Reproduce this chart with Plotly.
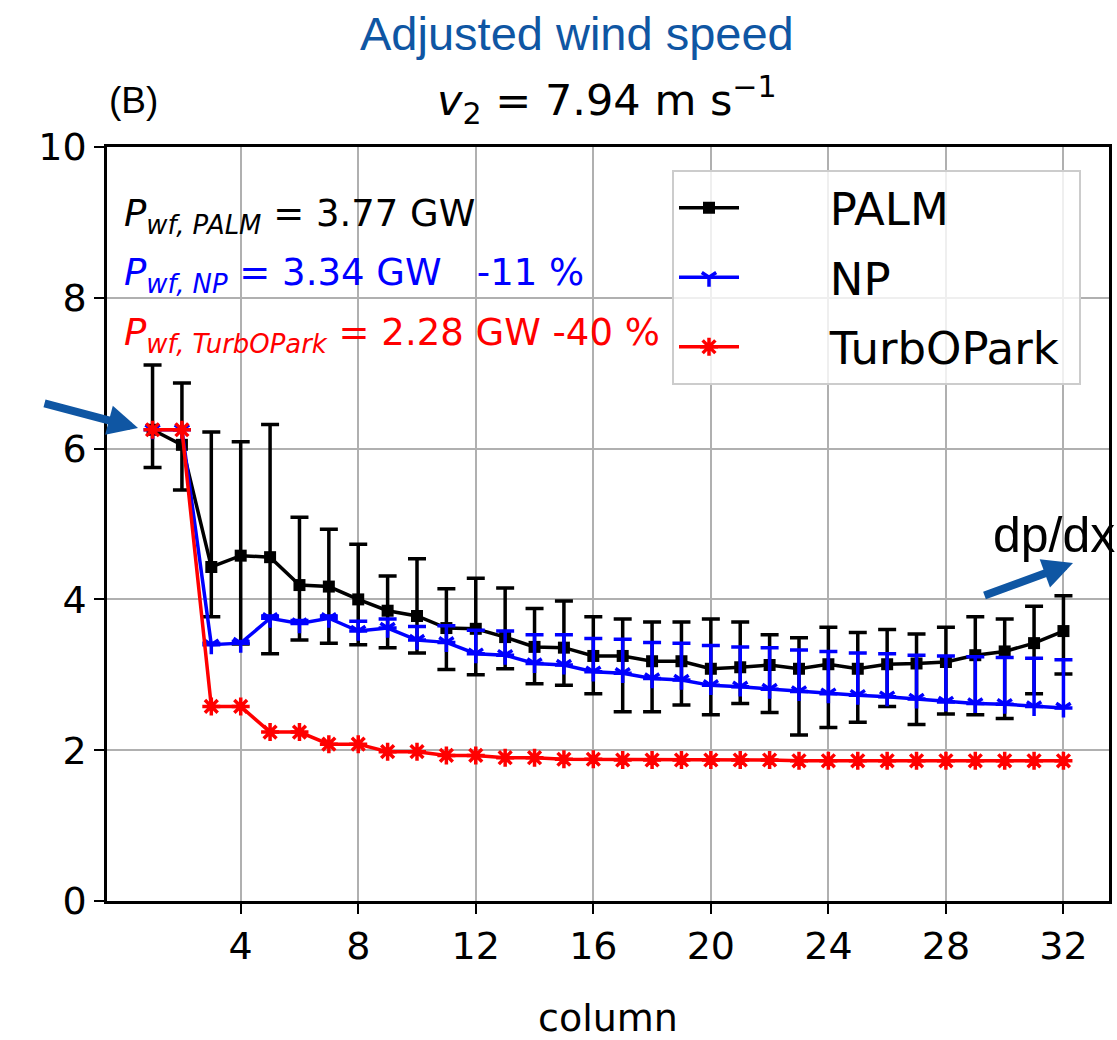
import plotly.graph_objects as go

columns = list(range(1, 33))

palm_mean = [6.25, 6.05, 4.43, 4.58, 4.56, 4.19, 4.17, 4.00, 3.85, 3.78, 3.62, 3.61, 3.50, 3.37, 3.36, 3.25,
             3.25, 3.18, 3.18, 3.08, 3.10, 3.13, 3.08, 3.14, 3.08, 3.14, 3.15, 3.17, 3.26, 3.31, 3.42, 3.58]
palm_upper = [7.11, 6.87, 6.22, 6.09, 6.32, 5.09, 4.93, 4.73, 4.31, 4.54, 4.14, 4.28, 4.15, 3.88, 3.98, 3.77,
              3.74, 3.70, 3.70, 3.74, 3.70, 3.53, 3.49, 3.63, 3.56, 3.60, 3.54, 3.63, 3.77, 3.74, 3.91, 4.05]
palm_lower = [5.75, 5.45, 3.77, 3.41, 3.28, 3.46, 3.42, 3.40, 3.36, 3.29, 3.07, 3.00, 3.08, 2.88, 2.86, 2.75,
              2.51, 2.51, 2.60, 2.47, 2.62, 2.50, 2.20, 2.30, 2.37, 2.58, 2.34, 2.48, 2.47, 2.42, 2.75, 3.01]

np_mean = [6.25, 6.25, 3.40, 3.42, 3.75, 3.68, 3.75, 3.58, 3.62, 3.46, 3.43, 3.28, 3.26, 3.15, 3.13, 3.04,
           3.02, 2.95, 2.93, 2.86, 2.84, 2.81, 2.78, 2.75, 2.73, 2.71, 2.68, 2.64, 2.62, 2.61, 2.58, 2.56]
np_upper = [6.25, 6.25, 3.42, 3.44, 3.78, 3.72, 3.78, 3.71, 3.74, 3.64, 3.65, 3.59, 3.58, 3.53, 3.53, 3.48,
            3.47, 3.43, 3.42, 3.39, 3.37, 3.36, 3.33, 3.31, 3.29, 3.28, 3.26, 3.25, 3.24, 3.23, 3.22, 3.20]

turbo_mean = [6.25, 6.25, 2.58, 2.58, 2.24, 2.24, 2.08, 2.08, 1.98, 1.98, 1.93, 1.93, 1.90, 1.90, 1.88, 1.88,
              1.87, 1.87, 1.87, 1.87, 1.87, 1.87, 1.86, 1.86, 1.86, 1.86, 1.86, 1.86, 1.86, 1.86, 1.86, 1.86]

series_names = ["PALM", "NP", "TurbOPark"]

x_ticks = [4, 8, 12, 16, 20, 24, 28, 32]
y_ticks = [0, 2, 4, 6, 8, 10]

W, H = 1117, 1040
L, R, T, B = 107, 1109, 147, 901

PAD = "\u00a0" * 6


def px(xp):
    return (xp - L) / (R - L)


def py(yp):
    return (B - yp) / (B - T)


fig = go.Figure()

fig.add_trace(go.Scatter(
    x=columns, y=palm_mean, name=PAD + series_names[0] + "\u00a0", mode="lines+markers", legendgroup="a",
    line=dict(color="black", width=3.5),
    marker=dict(symbol="square", size=12, color="black"),
    error_y=dict(type="data", symmetric=False,
                 array=[u - m for u, m in zip(palm_upper, palm_mean)],
                 arrayminus=[m - l for m, l in zip(palm_mean, palm_lower)],
                 color="black", thickness=3.5, width=9),
))
fig.add_trace(go.Scatter(
    x=columns, y=np_mean, name=PAD + series_names[1] + "\u00a0", mode="lines+markers", legendgroup="b",
    line=dict(color="blue", width=3.5),
    marker=dict(symbol="y-down-open", size=12, color="blue", line=dict(color="blue", width=3.5)),
    error_y=dict(type="data", symmetric=False,
                 array=[u - m for u, m in zip(np_upper, np_mean)],
                 arrayminus=[0] * len(np_mean),
                 color="blue", thickness=3.5, width=9),
))
fig.add_trace(go.Scatter(
    x=columns, y=turbo_mean, name=PAD + series_names[2] + "\u00a0", mode="lines+markers", legendgroup="c",
    line=dict(color="red", width=3.5),
    marker=dict(symbol="asterisk-open", size=15, color="red", line=dict(color="red", width=3.5)),
))

annotations = [
    dict(text="Adjusted wind speed", x=px(577), y=py(33), xref="paper", yref="paper",
         showarrow=False, xanchor="center", yanchor="middle",
         font=dict(family="Liberation Sans", size=47, color="#0F56A3")),
    dict(text="(B)", x=px(107), y=py(101), xref="paper", yref="paper",
         showarrow=False, xanchor="left", yanchor="middle",
         font=dict(family="Liberation Sans", size=37, color="black")),
    dict(text="<i>v</i><sub>2</sub> = 7.94 m s<sup>\u22121</sup>", x=px(607), y=py(100),
         xref="paper", yref="paper", showarrow=False, xanchor="center", yanchor="middle",
         font=dict(family="DejaVu Sans", size=43, color="black")),
    dict(text="<i>P</i><sub><i>wf, PALM</i></sub> = 3.77 GW", x=px(122), y=py(216),
         xref="paper", yref="paper", showarrow=False, xanchor="left", yanchor="middle",
         font=dict(family="DejaVu Sans", size=37, color="black")),
    dict(text="<i>P</i><sub><i>wf, NP</i></sub> = 3.34 GW   -11 %", x=px(122), y=py(275),
         xref="paper", yref="paper", showarrow=False, xanchor="left", yanchor="middle",
         font=dict(family="DejaVu Sans", size=37, color="blue")),
    dict(text="<i>P</i><sub><i>wf, TurbOPark</i></sub> = 2.28 GW -40 %", x=px(122), y=py(335),
         xref="paper", yref="paper", showarrow=False, xanchor="left", yanchor="middle",
         font=dict(family="DejaVu Sans", size=37, color="red")),
    dict(text="dp/dx", x=px(1117), y=py(535), xref="paper", yref="paper",
         showarrow=False, xanchor="right", yanchor="middle",
         font=dict(family="Liberation Sans", size=50, color="black")),
    dict(text="", x=px(138), y=py(428), xref="paper", yref="paper",
         ax=-95, ay=-25, axref="pixel", ayref="pixel",
         showarrow=True, arrowhead=2, arrowsize=0.75, arrowwidth=8, arrowcolor="#0F56A3"),
    dict(text="", x=px(1073), y=py(563), xref="paper", yref="paper",
         ax=-90, ay=33, axref="pixel", ayref="pixel",
         showarrow=True, arrowhead=2, arrowsize=0.75, arrowwidth=8, arrowcolor="#0F56A3"),
]

fig.update_layout(
    width=W, height=H,
    margin=dict(l=L, r=W - R, t=T, b=H - B, pad=0, autoexpand=False),
    paper_bgcolor="white", plot_bgcolor="white",
    font=dict(family="DejaVu Sans", size=38, color="black"),
    showlegend=True,
    legend=dict(x=px(672), y=py(170), xanchor="left", yanchor="top",
                bgcolor="rgba(255,255,255,0.8)", bordercolor="#cccccc", borderwidth=2,
                font=dict(family="DejaVu Sans", size=45, color="black"),
                traceorder="grouped", tracegroupgap=8, itemwidth=60),
    annotations=annotations,
)
fig.update_xaxes(range=[-0.55, 33.55], tickvals=x_ticks, ticktext=[str(v) for v in x_ticks],
                 automargin=False,
                 showgrid=True, gridcolor="#b0b0b0", gridwidth=2,
                 showline=True, linecolor="black", linewidth=2.5, mirror=True,
                 ticks="outside", ticklen=10, tickwidth=2, tickcolor="black",
                 tickfont=dict(family="DejaVu Sans", size=38),
                 title=dict(text="column", font=dict(family="DejaVu Sans", size=38), standoff=40),
                 zeroline=False)
fig.update_yaxes(range=[0, 10], tickvals=y_ticks, ticktext=[str(v) for v in y_ticks],
                 automargin=False,
                 showgrid=True, gridcolor="#b0b0b0", gridwidth=2,
                 showline=True, linecolor="black", linewidth=2.5, mirror=True,
                 ticks="outside", ticklen=10, tickwidth=2, tickcolor="black",
                 tickfont=dict(family="DejaVu Sans", size=38),
                 zeroline=False)

fig.write_html("out.html")
